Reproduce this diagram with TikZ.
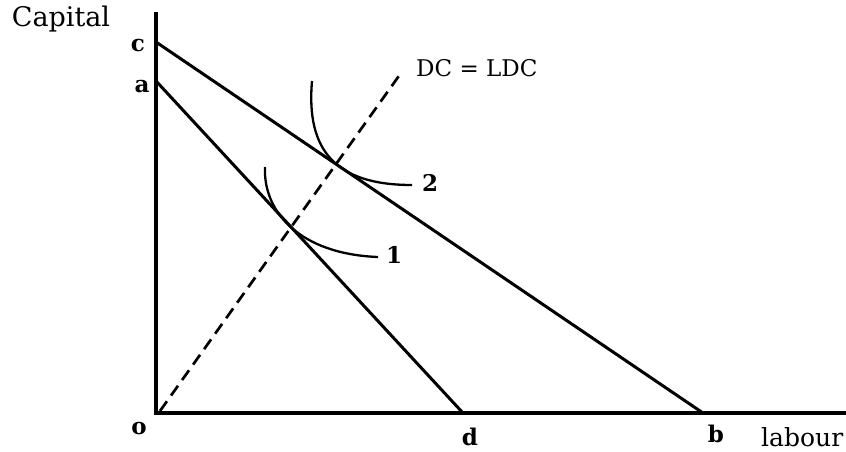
\documentclass[tikz,border=0pt]{standalone}
\usepackage{fontspec}
\setmainfont{DejaVu Serif}
\begin{document}
\begin{tikzpicture}[x=1pt,y=-1pt,
  axis/.style={line width=4.2pt},
  budget/.style={line width=3pt},
  iso/.style={line width=2.3pt},
  ray/.style={line width=2.7pt,dash pattern=on 12pt off 7pt},
  lab/.style={font=\fontsize{23}{23}\selectfont\bfseries,inner sep=0pt},
  txt/.style={font=\fontsize{23}{23}\selectfont,inner sep=0pt}]
\useasboundingbox (0,0) rectangle (846,451);
\clip (0,0) rectangle (846,451);
\coordinate (O) at (156,413);
\coordinate (Ytop) at (156,12);
\coordinate (Xend) at (860,413);
\coordinate (C) at (156,42);
\coordinate (A) at (156,81);
\coordinate (D) at (463,413);
\coordinate (B) at (703,413);
\coordinate (R0) at (160,411);
\coordinate (R1) at (401,73);
\coordinate (I2s) at (312,81);
\coordinate (I2e) at (412,185);
\coordinate (I1s) at (265,167);
\coordinate (I1e) at (378,257);
\draw[axis] (Ytop) -- (O) -- (Xend);
\draw[budget] (C) -- (B);
\draw[budget] (A) -- (D);
\draw[ray] (R0) -- (R1);
\draw[iso] (I2s) .. controls (306,150) and (335,185) .. (I2e);
\draw[iso] (I1s) .. controls (263,212) and (300,254) .. (I1e);
\node[txt,font=\fontsize{27}{27}\selectfont] (capital) at (61,19) {Capital};
\node[lab] (lc) at (138,46) {c};
\node[lab] (la) at (142,87) {a};
\node[lab] (lo) at (139,429) {o};
\node[lab] (ld) at (470,437) {d};
\node[lab] (lb) at (716,434) {b};
\node[txt,anchor=west,font=\fontsize{25}{25}\selectfont] (llab) at (761,437) {labour};
\node[txt,anchor=west] (ldc) at (416,68) {DC = LDC};
\node[lab] (l2) at (430,183) {2};
\node[lab] (l1) at (394,255) {1};
\end{tikzpicture}
\end{document}
